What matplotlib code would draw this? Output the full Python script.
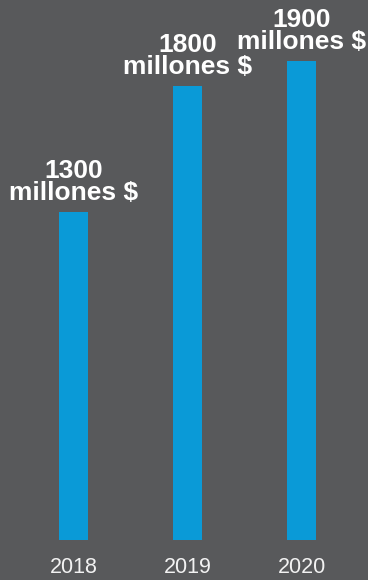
import matplotlib.pyplot as plt
import numpy as np

plt.rcParams['font.family'] = ['Liberation Sans', 'DejaVu Sans']

years = ['2018', '2019', '2020']
values = [1300, 1800, 1900]
labels = ['1300\nmillones $', '1800\nmillones $', '1900\nmillones $']

bg = '#58595b'
bar_col = '#0a9ad7'

fig = plt.figure(figsize=(3.68, 5.8), dpi=100, facecolor=bg)
ax = fig.add_axes([0, 40 / 580, 1, 540 / 580])
ax.set_facecolor(bg)

x = np.arange(len(years))
bars = ax.bar(x, values, width=0.254, color=bar_col)

for xi, v, lab in zip(x, values, labels):
    ax.annotate(lab, (xi, v), xytext=(0, 5), textcoords='offset points',
                ha='center', va='bottom', color='white', fontsize=19,
                fontweight='bold', linespacing=0.92)

ax.set_xlim(-0.645, 2.583)
ax.set_ylim(0, 2143)
ax.set_xticks(x)
ax.set_xticklabels(years, color='#f2f2f2', fontsize=15.5)
ax.tick_params(axis='x', length=0, pad=12.5)
ax.set_yticks([])
for s in ax.spines.values():
    s.set_visible(False)

fig.savefig('out.png', dpi=100, facecolor=bg)
